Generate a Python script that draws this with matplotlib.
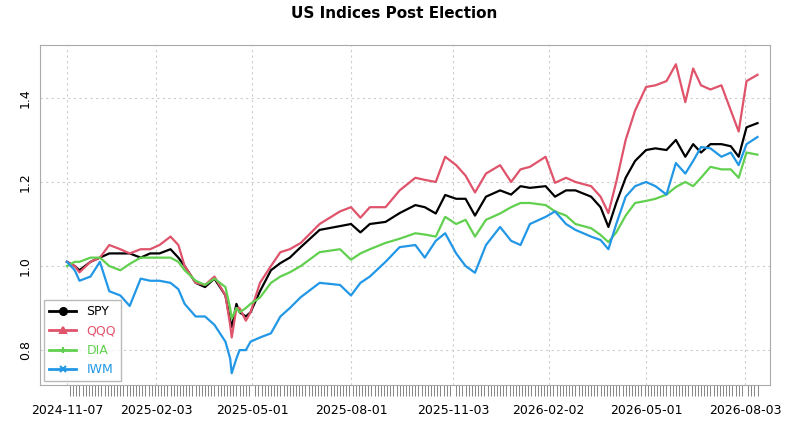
import matplotlib.pyplot as plt
import numpy as np
import pandas as pd

# NYSE trading days since the election
holidays = ['2024-11-28', '2024-12-25', '2025-01-01', '2025-01-09', '2025-01-20', '2025-02-17',
            '2025-04-18', '2025-05-26', '2025-06-19', '2025-07-04', '2025-09-01', '2025-11-27',
            '2025-12-25', '2026-01-01', '2026-01-19', '2026-02-16', '2026-04-03', '2026-05-25',
            '2026-06-19', '2026-07-03']
dates = pd.bdate_range('2024-11-07', '2026-12-31')
dates = dates[~dates.isin(pd.to_datetime(holidays))][:441]

days = [0, 5, 8, 15, 21, 27, 34, 40, 47, 53, 59, 66, 71, 75, 82, 88, 94, 101, 104, 105,
        108, 110, 114, 117, 123, 130, 136, 142, 149, 161, 174, 181, 187, 193, 203, 212, 222, 228, 235, 241,
        248, 254, 260, 267, 276, 283, 289, 295, 305, 311, 318, 324, 334, 340, 345, 350, 356, 362, 369, 375,
        382, 388, 394, 399, 404, 410, 417, 423, 428, 433, 440]

series = {
    'SPY': [1.01, 1.00, 0.99, 1.01, 1.02, 1.03, 1.03, 1.03, 1.02, 1.03,
            1.03, 1.04, 1.02, 1.00, 0.96, 0.95, 0.97, 0.93, 0.87, 0.855,
            0.91, 0.89, 0.88, 0.89, 0.94, 0.99, 1.007, 1.02, 1.045, 1.086,
            1.095, 1.10, 1.08, 1.10, 1.105, 1.126, 1.145, 1.14, 1.125, 1.169,
            1.16, 1.16, 1.12, 1.165, 1.18, 1.17, 1.19, 1.186, 1.19, 1.165,
            1.18, 1.18, 1.165, 1.14, 1.093, 1.15, 1.21, 1.25, 1.276, 1.28,
            1.276, 1.30, 1.26, 1.29, 1.27, 1.29, 1.29, 1.285, 1.26, 1.33, 1.34],
    'QQQ': [1.01, 1.00, 0.985, 1.01, 1.02, 1.05, 1.04, 1.03, 1.04, 1.04,
            1.05, 1.07, 1.05, 1.00, 0.96, 0.955, 0.975, 0.93, 0.86, 0.83,
            0.90, 0.90, 0.87, 0.89, 0.96, 1.00, 1.033, 1.04, 1.055, 1.10,
            1.13, 1.14, 1.115, 1.14, 1.14, 1.18, 1.21, 1.205, 1.20, 1.26,
            1.24, 1.215, 1.175, 1.22, 1.24, 1.20, 1.23, 1.236, 1.26, 1.198,
            1.21, 1.20, 1.19, 1.165, 1.126, 1.20, 1.30, 1.37, 1.426, 1.43,
            1.44, 1.48, 1.39, 1.47, 1.43, 1.42, 1.43, 1.37, 1.32, 1.44, 1.455],
    'DIA': [1.00, 1.01, 1.01, 1.02, 1.02, 1.00, 0.99, 1.005, 1.02, 1.02,
            1.02, 1.02, 1.01, 0.99, 0.965, 0.955, 0.97, 0.95, 0.90, 0.875,
            0.90, 0.89, 0.90, 0.91, 0.925, 0.96, 0.975, 0.985, 1.00, 1.033,
            1.04, 1.015, 1.03, 1.04, 1.055, 1.065, 1.078, 1.075, 1.07, 1.117,
            1.10, 1.11, 1.07, 1.11, 1.125, 1.14, 1.15, 1.15, 1.145, 1.13,
            1.12, 1.10, 1.09, 1.074, 1.057, 1.08, 1.12, 1.15, 1.155, 1.16,
            1.17, 1.188, 1.20, 1.19, 1.21, 1.236, 1.23, 1.23, 1.21, 1.27, 1.265],
    'IWM': [1.01, 0.99, 0.965, 0.975, 1.01, 0.94, 0.93, 0.905, 0.97, 0.965,
            0.965, 0.96, 0.945, 0.91, 0.88, 0.88, 0.86, 0.82, 0.78, 0.745,
            0.78, 0.80, 0.80, 0.82, 0.83, 0.84, 0.88, 0.90, 0.926, 0.96,
            0.955, 0.93, 0.96, 0.975, 1.01, 1.045, 1.05, 1.02, 1.06, 1.078,
            1.03, 1.00, 0.984, 1.05, 1.093, 1.06, 1.05, 1.10, 1.117, 1.13,
            1.10, 1.086, 1.07, 1.062, 1.04, 1.10, 1.165, 1.19, 1.20, 1.19,
            1.17, 1.245, 1.22, 1.25, 1.283, 1.28, 1.26, 1.27, 1.24, 1.29, 1.307],
}
colors = {'SPY': 'black', 'QQQ': '#DF536B', 'DIA': '#61D04F', 'IWM': '#2297E6'}
markers = {'SPY': 'o', 'QQQ': '^', 'DIA': '+', 'IWM': 'x'}

fig = plt.figure(figsize=(7.89, 4.24), dpi=100)
ax = fig.add_axes([0.051, 0.092, 0.925, 0.802])

for name, vals in series.items():
    ax.plot(days, vals, color=colors[name], linewidth=1.6, label=name)

# tick labels at chosen dates
tick_dates = ['2024-11-07', '2025-02-03', '2025-05-01', '2025-08-01', '2025-11-03',
              '2026-02-02', '2026-05-01', '2026-08-03']
tick_pos = [dates.searchsorted(pd.Timestamp(d)) for d in tick_dates]
ax.set_xticks(tick_pos)
ax.set_xticklabels(tick_dates, fontsize=9)
ax.set_xticks(np.arange(0, 441, 2), minor=True)
ax.tick_params(axis='x', which='major', length=0, pad=14)
ax.tick_params(axis='x', which='minor', length=8, width=0.5, color='#555555')
ax.set_xlim(-17, 448)

ax.set_ylim(0.717, 1.526)
ax.set_yticks([0.8, 1.0, 1.2, 1.4])
ax.set_yticklabels(['0.8', '1.0', '1.2', '1.4'], rotation=90, va='center', fontsize=9)
ax.tick_params(axis='y', length=0, pad=6)

ax.grid(True, color='#cccccc', linestyle=(0, (2, 3)), linewidth=0.8)
for s in ax.spines.values():
    s.set_color('#aaaaaa')

handles = [plt.Line2D([], [], color=colors[n], marker=markers[n], linewidth=2, markersize=5,
                      markeredgewidth=1.5) for n in series]
leg = ax.legend(handles, list(series), loc='lower left', fontsize=9, frameon=True,
                fancybox=False, edgecolor='#aaaaaa', handlelength=2.2, borderaxespad=0.3)
for t, n in zip(leg.get_texts(), series):
    t.set_color(colors[n])

fig.suptitle('US Indices Post Election', fontsize=11, fontweight='bold', y=0.985)

fig.savefig('out.png', dpi=100)
